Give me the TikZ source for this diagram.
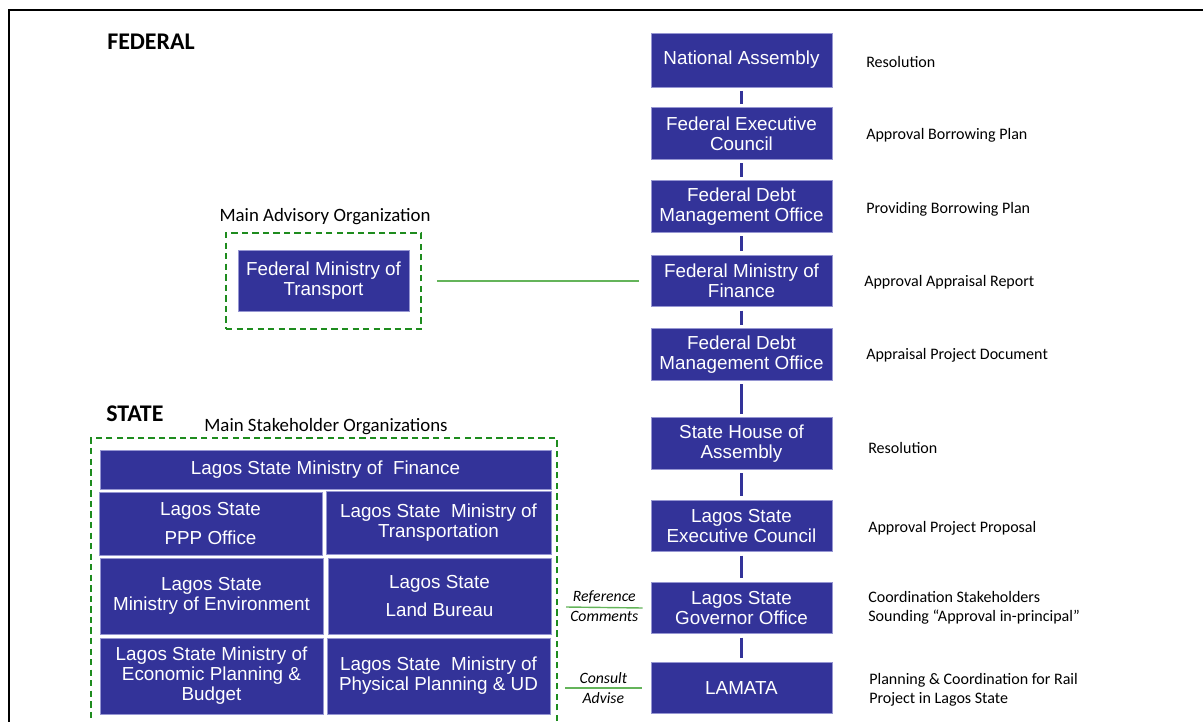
\documentclass[tikz,border=0pt]{standalone}
\usepackage{fontspec}
\setmainfont{Liberation Sans}
\newfontfamily\carlito{Carlito}
\usetikzlibrary{calc}
\definecolor{orgblue}{RGB}{51,51,153}
\definecolor{orgedge}{RGB}{150,150,210}
\definecolor{dashgreen}{RGB}{30,140,30}
\definecolor{linkgreen}{RGB}{100,180,90}

\begin{document}
\begin{tikzpicture}[x=0.025cm, y=-0.025cm,
	org/.style={draw=orgedge, line width=0.5pt, fill=orgblue, text=white, align=center, inner sep=0pt, font=\fontsize{13.4}{14.2}\selectfont},
	vlink/.style={orgblue, line width=2.1pt, shorten <=2.5pt, shorten >=2.5pt},
	dashgroup/.style={draw=dashgreen, line width=1.4pt, dash pattern=on 4.5pt off 3pt, inner sep=0pt},
	link/.style={linkgreen, line width=1pt},
	note/.style={anchor=west, align=left, inner sep=0pt, font=\carlito\fontsize{11.4}{13.5}\selectfont},
	side/.style={text=black, font=\carlito\itshape\fontsize{11.2}{13}\selectfont, inner sep=2.5pt},
	]
	\useasboundingbox (0,0) rectangle (1203,722);
	
	% frame
	\coordinate (TR) at (1203,10);
	\coordinate (TL) at (9,10);
	\coordinate (BL) at (9,722);
	\draw[line width=1.5pt] (TR) -- (TL) -- (BL);
	
	% headings
	\node[anchor=west, inner sep=0pt, font=\carlito\bfseries\fontsize{17}{20}\selectfont] (federal) at (107,42) {FEDERAL};
	\node[anchor=west, inner sep=0pt, font=\carlito\bfseries\fontsize{17}{20}\selectfont] (state) at (106,414) {STATE};
	
	% approval chain
	\def\cx{741.5} % center of column
	\def\colw{4.525cm} % box width
	\def\colh{1.29cm} % box height
	\node[org, minimum width=\colw, minimum height=1.35cm] (na) at (\cx,60) {National Assembly};
	\node[org, minimum width=\colw, minimum height=\colh] (fec) at (\cx,133.5) {Federal Executive\\Council};
	\node[org, minimum width=\colw, minimum height=\colh] (dmoa) at (\cx,206.5) {Federal Debt\\Management Office};
	\node[org, minimum width=\colw, minimum height=\colh] (fmf) at (\cx,281) {Federal Ministry of\\Finance};
	\node[org, minimum width=\colw, minimum height=\colh] (dmob) at (\cx,354.5) {Federal Debt\\Management Office};
	\node[org, minimum width=\colw, minimum height=\colh] (sha) at (\cx,443.5) {State House of\\Assembly};
	\node[org, minimum width=\colw, minimum height=\colh] (lsec) at (\cx,526) {Lagos State\\Executive Council};
	\node[org, minimum width=\colw, minimum height=\colh] (lsgo) at (\cx,608) {Lagos State\\Governor Office};
	\node[org, minimum width=\colw, minimum height=\colh] (lamata) at (\cx,688) {LAMATA};
	
	\draw[vlink] (na) -- (fec);
	\draw[vlink] (fec) -- (dmoa);
	\draw[vlink] (dmoa) -- (fmf);
	\draw[vlink] (fmf) -- (dmob);
	\draw[vlink] (dmob) -- (sha);
	\draw[vlink] (sha) -- (lsec);
	\draw[vlink] (lsec) -- (lsgo);
	\draw[vlink] (lsgo) -- (lamata);
	
	% notes on the right
	\def\nx{866}
	\node[note] (nna) at (\nx,62) {Resolution};
	\node[note] (nfec) at (\nx,135) {Approval Borrowing Plan};
	\node[note] (ndmoa) at (\nx,209) {Providing Borrowing Plan};
	\node[note] (nfmf) at (864,282) {Approval Appraisal Report};
	\node[note] (ndmob) at (\nx,355) {Appraisal Project Document};
	\node[note] (nsha) at (868,448) {Resolution};
	\node[note] (nlsec) at (868,528) {Approval Project Proposal};
	\node[note] (nlsgo) at (868,607.5) {Coordination Stakeholders\\Sounding “Approval in-principal”};
	\node[note] (nlamata) at (869,689.5) {Planning \& Coordination for Rail\\Project in Lagos State};
	
	% advisory organization
	\node[font=\carlito\fontsize{13.4}{15}\selectfont, inner sep=0pt] (advtitle) at (325,217) {Main Advisory Organization};
	\node[dashgroup, minimum width=4.875cm, minimum height=2.4cm] (adv) at (323.5,281) {};
	\node[org, minimum width=4.275cm, minimum height=1.525cm] (fmt) at (323.5,280.5) {Federal Ministry of\\Transport};
	\draw[link, shorten <=10.6pt, shorten >=8.5pt] (adv.east) -- (fmf.west);
	
	% stakeholder organizations
	\node[font=\carlito\fontsize{13.4}{15}\selectfont, inner sep=0pt] (stktitle) at (326,427) {Main Stakeholder Organizations};
	\node[dashgroup, minimum width=11.65cm, minimum height=7.55cm] (stk) at (324,589) {};
	\def\bw{5.575cm} % cell width
	\node[org, minimum width=11.275cm, minimum height=0.975cm] (lfin) at (325.5,469.5) {Lagos State Ministry of\ \ Finance};
	\node[org, minimum width=\bw, minimum height=1.575cm] (lppp) at (210.5,523.5) {Lagos State\\[6.3pt]PPP Office};
	\node[org, minimum width=5.625cm, minimum height=1.575cm] (ltrans) at (438.5,522.5) {Lagos State\ \ Ministry of\\Transportation};
	\node[org, minimum width=\bw, minimum height=1.9cm] (lenv) at (211.5,596) {Lagos State\\Ministry of Environment};
	\node[org, minimum width=\bw, minimum height=1.9cm] (lland) at (439.5,596) {Lagos State\\[5.6pt]Land Bureau};
	\node[org, minimum width=\bw, minimum height=1.9cm] (lecon) at (211.5,676) {Lagos State Ministry of\\Economic Planning \&\\Budget};
	\node[org, minimum width=\bw, minimum height=1.9cm] (lphys) at (438.5,676) {Lagos State\ \ Ministry of\\Physical Planning \& UD};
	
	% side links to the chain
	\coordinate (refend) at (566,607);
	\draw[link] (refend) -- ([xshift=-5.7pt]lsgo.west)
		node[side, midway, above] {Reference}
		node[side, midway, below] {Comments};
	\coordinate (conend) at (565,688);
	\draw[link] (conend) -- ([xshift=-6.4pt]lamata.west)
		node[side, midway, above] {Consult}
		node[side, midway, below] {Advise};
\end{tikzpicture}
\end{document}
